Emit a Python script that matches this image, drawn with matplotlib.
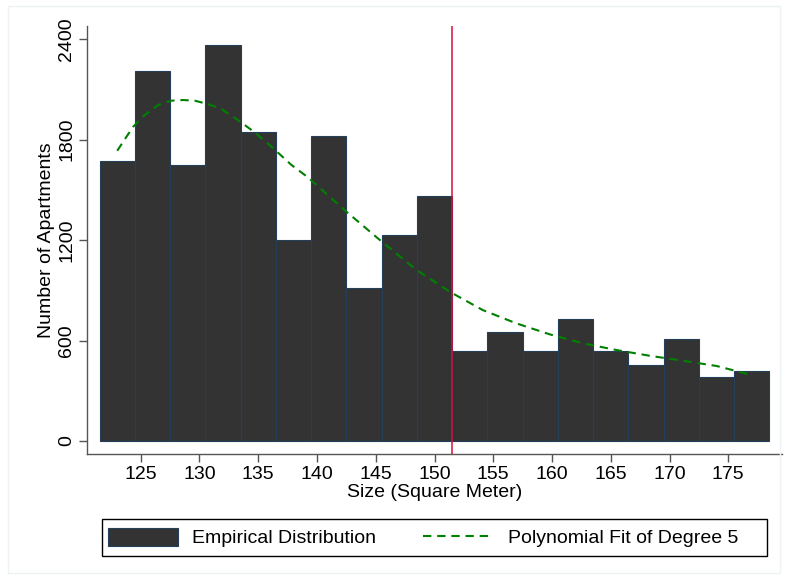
import numpy as np
import matplotlib
matplotlib.use("Agg")
import matplotlib.pyplot as plt
from matplotlib.patches import Rectangle

plt.rcParams['font.family'] = ['Liberation Sans', 'DejaVu Sans']

# histogram bins (left edges, width 3 square meters)
bin_left = [121.5, 124.5, 127.5, 130.5, 133.5, 136.5, 139.5, 142.5, 145.5, 148.5,
            151.5, 154.5, 157.5, 160.5, 163.5, 166.5, 169.5, 172.5, 175.5]
counts = [1673, 2208, 1648, 2363, 1848, 1198, 1819, 911, 1228, 1465,
          537, 653, 539, 727, 539, 456, 611, 382, 418]
bin_width = 3

# polynomial fit curve
fit_x = [123.0, 124.35, 125.34, 126.47, 127.6, 128.6, 129.6, 130.73, 131.87, 133.28,
         134.7, 136.13, 137.83, 139.16, 142.51, 145.35, 148.47, 151.3, 154.1, 156.98,
         159.8, 162.65, 165.5, 168.3, 171.16, 174.0, 177.0]
fit_y = [1733, 1876, 1946, 2006, 2032, 2036, 2032, 2012, 1982, 1916,
         1843, 1757, 1648, 1578, 1369, 1200, 1021, 891, 782, 702,
         637, 583, 543, 509, 479, 448, 394]

cutoff = 151.5
xticks = [125, 130, 135, 140, 145, 150, 155, 160, 165, 170, 175]
yticks = [0, 600, 1200, 1800, 2400]

fig = plt.figure(figsize=(7.88, 5.79), dpi=100)
ax = fig.add_axes([87 / 788, 1 - 454 / 579, (782 - 87) / 788, (454 - 26) / 579])

bars = ax.bar(bin_left, counts, width=bin_width, align='edge', color='#333333',
              edgecolor='#243f5c', linewidth=0.8, zorder=2)
fit_line, = ax.plot(fit_x, fit_y, color='#008000', linewidth=1.5,
                    linestyle=(0, (4, 2.8)), zorder=3)
ax.axvline(cutoff, color='#d6103c', linewidth=1.1, zorder=4)

ax.set_xlim(120.43, 179.57)
ax.set_ylim(-77.6, 2478)
ax.set_xticks(xticks)
ax.set_yticks(yticks)
ax.set_yticklabels([str(v) for v in yticks], rotation=90, va='center')

for side in ['top', 'right']:
    ax.spines[side].set_visible(False)
for side in ['left', 'bottom']:
    ax.spines[side].set_color('#555555')
    ax.spines[side].set_linewidth(1.0)
ax.tick_params(axis='both', colors='#555555', labelcolor='black', labelsize=14,
               length=5.5, width=1.0)
ax.tick_params(axis='x', pad=3)
ax.tick_params(axis='y', pad=3)

ax.set_xlabel('Size (Square Meter)', fontsize=14, labelpad=1)
ax.set_ylabel('Number of Apartments', fontsize=14, labelpad=2)

# legend content without its own frame; the box is drawn separately
leg = ax.legend([bars, fit_line], ['Empirical Distribution', 'Polynomial Fit of Degree 5'],
                loc='center left', ncol=2,
                bbox_to_anchor=(102 / 788, 1 - 537.5 / 579),
                bbox_transform=fig.transFigure, fontsize=14, frameon=False,
                handlelength=3.6, handleheight=1.1, handletextpad=0.75,
                borderpad=0.3, columnspacing=2.4, borderaxespad=0)
fig.patches.append(Rectangle((102 / 788, 1 - 556 / 579), 665 / 788, 37 / 579,
                             transform=fig.transFigure, fill=False,
                             edgecolor='black', linewidth=1.0))

# faint outer graph-region frame
fig.patches.append(Rectangle((8 / 788, 1 - 573 / 579), 772 / 788, 567 / 579,
                             transform=fig.transFigure, fill=False,
                             edgecolor='#edf3f3', linewidth=1.0))

fig.savefig('out.png', dpi=100)
